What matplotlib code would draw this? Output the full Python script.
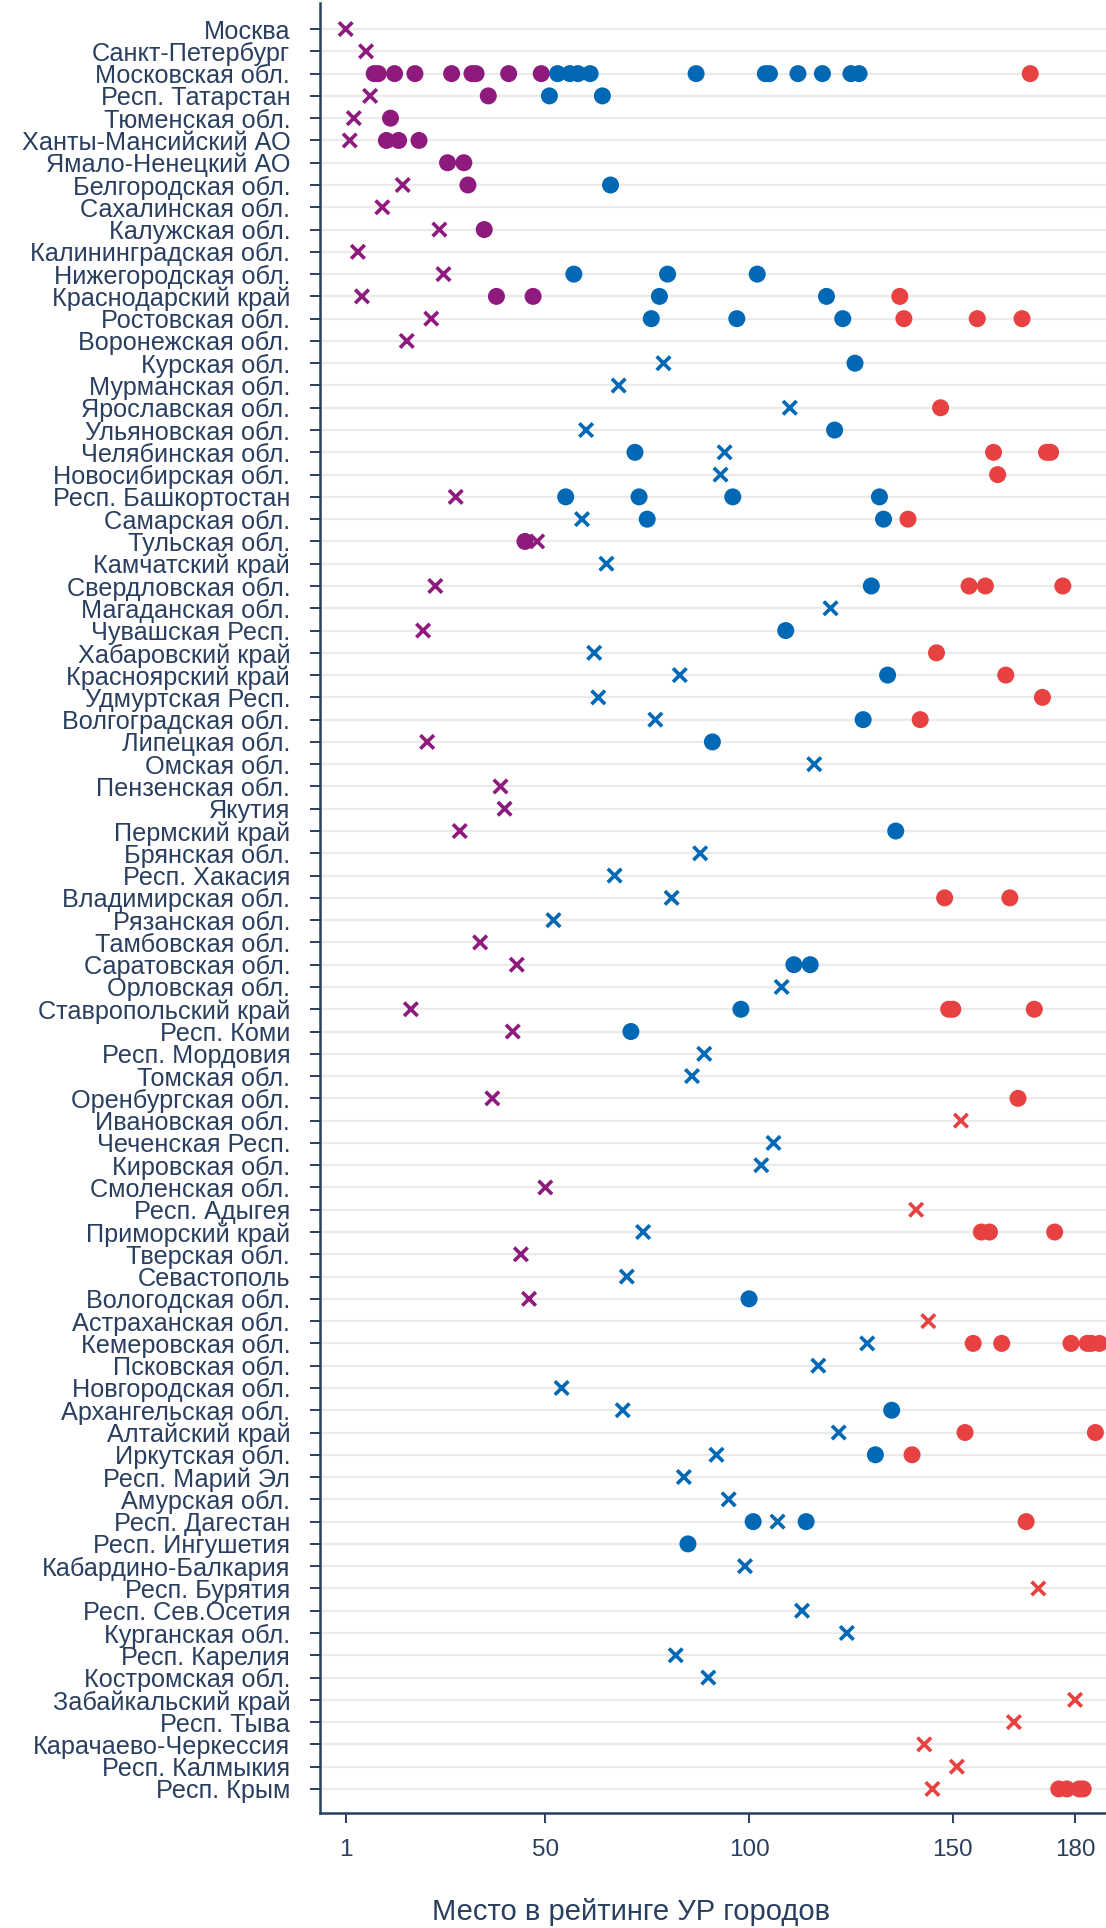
import matplotlib
matplotlib.use("Agg")
import matplotlib.pyplot as plt
import numpy as np

plt.rcParams['font.family'] = ['Liberation Sans', 'DejaVu Sans']

regions = [
    "Москва", "Санкт-Петербург", "Московская обл.", "Респ. Татарстан", "Тюменская обл.",
    "Ханты-Мансийский АО", "Ямало-Ненецкий АО", "Белгородская обл.", "Сахалинская обл.",
    "Калужская обл.", "Калининградская обл.", "Нижегородская обл.", "Краснодарский край",
    "Ростовская обл.", "Воронежская обл.", "Курская обл.", "Мурманская обл.",
    "Ярославская обл.", "Ульяновская обл.", "Челябинская обл.", "Новосибирская обл.",
    "Респ. Башкортостан", "Самарская обл.", "Тульская обл.", "Камчатский край",
    "Свердловская обл.", "Магаданская обл.", "Чувашская Респ.", "Хабаровский край",
    "Красноярский край", "Удмуртская Респ.", "Волгоградская обл.", "Липецкая обл.",
    "Омская обл.", "Пензенская обл.", "Якутия", "Пермский край", "Брянская обл.",
    "Респ. Хакасия", "Владимирская обл.", "Рязанская обл.", "Тамбовская обл.",
    "Саратовская обл.", "Орловская обл.", "Ставропольский край", "Респ. Коми",
    "Респ. Мордовия", "Томская обл.", "Оренбургская обл.", "Ивановская обл.",
    "Чеченская Респ.", "Кировская обл.", "Смоленская обл.", "Респ. Адыгея",
    "Приморский край", "Тверская обл.", "Севастополь", "Вологодская обл.",
    "Астраханская обл.", "Кемеровская обл.", "Псковская обл.", "Новгородская обл.",
    "Архангельская обл.", "Алтайский край", "Иркутская обл.", "Респ. Марий Эл",
    "Амурская обл.", "Респ. Дагестан", "Респ. Ингушетия", "Кабардино-Балкария",
    "Респ. Бурятия", "Респ. Сев.Осетия", "Курганская обл.", "Респ. Карелия",
    "Костромская обл.", "Забайкальский край", "Респ. Тыва", "Карачаево-Черкессия",
    "Респ. Калмыкия", "Респ. Крым",
]

# rank of the regional capital (x marker); None if not shown
capital_rank = [
    1, 6, None, 7, 3, 2, None, 15, 10, 24, 4, 25, 5, 22, 16, 79, 68, 110, 60, 94,
    93, 28, 59, 48, 65, 23, 120, 20, 62, 83, 63, 77, 21, 116, 39, 40, 29, 88, 67, 81,
    52, 34, 43, 108, 17, 42, 89, 86, 37, 152, 106, 103, 50, 141, 74, 44, 70, 46, 144, 129,
    117, 54, 69, 122, 92, 84, 95, 107, None, 99, 171, 113, 124, 82, 90, 180, 165, 143, 151, 145,
]

# ranks of other cities (dots)
other_ranks = [
    [], [],
    [8, 9, 13, 18, 27, 32, 33, 41, 49, 53, 56, 58, 61, 87, 104, 105, 112, 118, 125, 127, 169],
    [36, 51, 64], [12], [11, 14, 19], [26, 30], [31, 66], [], [35], [],
    [57, 80, 102], [38, 47, 78, 119, 137], [76, 97, 123, 138, 156, 167], [],
    [126], [], [147], [121], [72, 160, 173, 174], [161], [55, 73, 96, 132],
    [75, 133, 139], [45], [], [130, 154, 158, 177], [], [109], [146],
    [134, 163], [172], [128, 142], [91], [], [], [], [136], [], [], [148, 164],
    [], [], [111, 115], [], [98, 149, 150, 170], [71], [], [], [166], [], [], [],
    [], [], [157, 159, 175], [], [], [100], [], [155, 162, 179, 183, 184, 186],
    [], [], [135], [153, 185], [131, 140], [], [], [101, 114, 168], [85], [],
    [], [], [], [], [], [], [], [], [], [176, 178, 181, 182],
]

tick_values = [1, 50, 100, 150, 180]
x_title = "Место в рейтинге УР городов"

PURPLE = "#8e1a7e"
BLUE = "#0068b4"
RED = "#e84142"
TXT = "#2a3f5f"


def rank_color(r):
    if r <= 50:
        return PURPLE
    if r <= 136:
        return BLUE
    return RED


W, H = 1106, 1928
fig = plt.figure(figsize=(W / 100, H / 100), dpi=100)
ax = fig.add_axes([320 / W, 1 - 1813 / H, 1 - 320 / W, (1813 - 3) / H])

n = len(regions)
ypos = np.arange(n)

# dots
dx, dy, dc = [], [], []
for i, rs in enumerate(other_ranks):
    for r in rs:
        dx.append(r)
        dy.append(i)
        dc.append(rank_color(r))
ax.scatter(dx, dy, s=150, c=dc, marker='o', linewidths=0, zorder=3)

# capitals
cx, cy, cc = [], [], []
for i, r in enumerate(capital_rank):
    if r is None:
        continue
    cx.append(r)
    cy.append(i)
    cc.append(rank_color(r))
ax.scatter(cx, cy, s=95, c=cc, marker='x', linewidths=2.6, zorder=4)

ax.set_yticks(ypos)
ax.set_yticklabels(regions)
ax.set_ylim(n - 1 + 1.08, -1.17)
ax.set_xlim(-5.3, 187.6)
ax.set_xticks(tick_values)
ax.set_xticklabels([str(v) for v in tick_values])

for y in ypos:
    ax.axhline(y, color="#ebebeb", lw=1.6, zorder=1)

for side in ["top", "right"]:
    ax.spines[side].set_visible(False)
for side in ["left", "bottom"]:
    ax.spines[side].set_color(TXT)
    ax.spines[side].set_linewidth(1.8)

ax.tick_params(axis='y', length=7, width=1.4, color=TXT, labelcolor=TXT,
               labelsize=18.2, pad=14.5, direction='out')
ax.tick_params(axis='x', length=7, width=1.4, color=TXT, labelcolor=TXT,
               labelsize=17.5, pad=12, direction='out')

fig.text(631 / W, 1 - 1912 / H, x_title, ha='center', va='center',
         fontsize=21, color=TXT)

fig.savefig("out.png", dpi=100)
